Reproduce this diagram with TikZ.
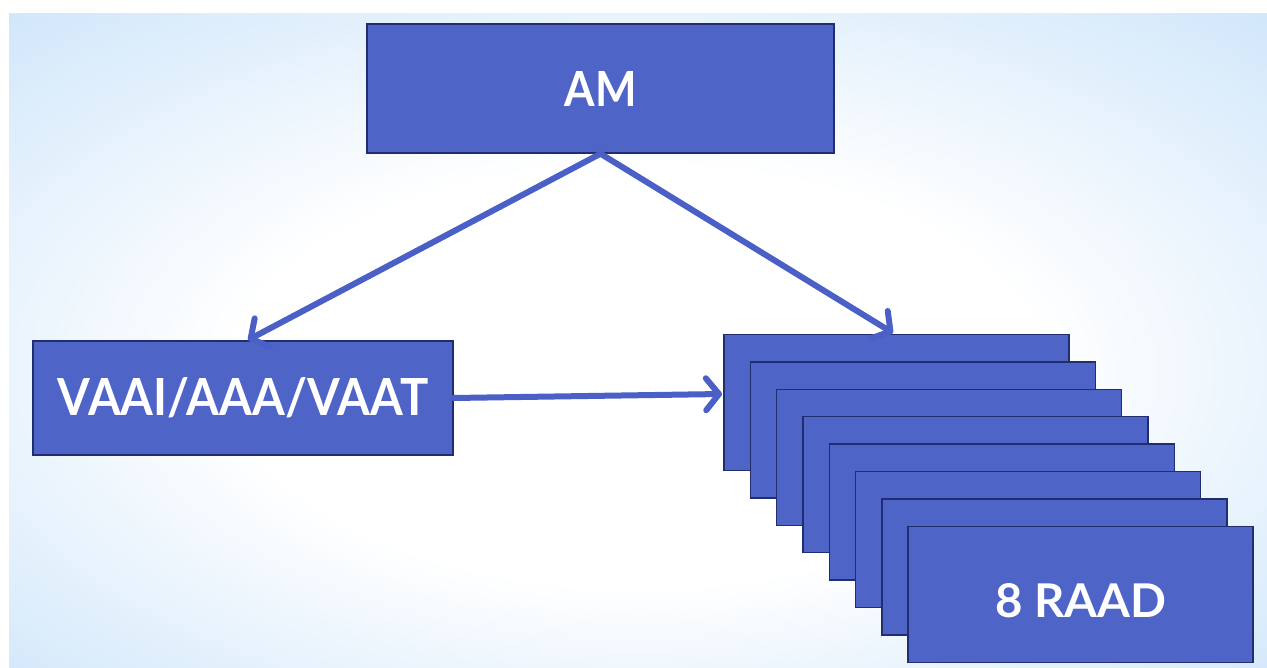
\documentclass[tikz,border=0pt]{standalone}
\usepackage{fontspec}
\setmainfont{Lato}
\usetikzlibrary{arrows.meta,calc}
\definecolor{boxblue}{RGB}{78,101,199}
\definecolor{boxedge}{RGB}{32,46,112}
\definecolor{arrowblue}{RGB}{74,96,198}
\definecolor{bgblue}{RGB}{196,224,249}
\pgfdeclareradialshading{bgshade}{\pgfpoint{0bp}{-4bp}}{color(0bp)=(white); color(16bp)=(white); color(42bp)=(bgblue); color(50bp)=(bgblue)}
\begin{document}
\begin{tikzpicture}[x=1pt,y=-1pt,
  blk/.style={draw=boxedge, line width=1.4pt, fill=boxblue, inner sep=0pt, text=white, font=\bfseries},
  lbl/.style={inner sep=0pt, text=white, font=\bfseries},
  conn/.style={draw=arrowblue, line width=6pt, line cap=round,
    -{Straight Barb[length=13pt,width=32pt,line cap=round,line join=round]}}]
  % page and background
  \path[fill=white] (0,0) rectangle (1267,668);
  \useasboundingbox (0,0) rectangle (1267,668);
  \fill[bgblue] (9,14) rectangle (1267,668);
  \shade[shading=bgshade] (9,14) rectangle (1267,668);

  % top box
  \node[blk, minimum width=467pt, minimum height=129pt] (am) at (600.5,88.5)
    {\resizebox{72pt}{35pt}{AM}};
  % left box
  \node[blk, minimum width=420pt, minimum height=114pt] (vaai) at (243,398)
    {\resizebox{370pt}{38pt}{VAAI/AAA/VAAT}};
  % stacked boxes
  \foreach \i in {1,...,8}{
    \pgfmathsetmacro{\cx}{896.5+26.3*(\i-1)}
    \pgfmathsetmacro{\cy}{402.5+27.4*(\i-1)}
    \node[blk, minimum width=345pt, minimum height=136pt] (r\i) at (\cx,\cy) {};
  }
  \node[lbl] (raad) at ($(r8.center)+(0,6)$) {\resizebox{171pt}{34pt}{8 RAAD}};

  % connector ends
  \coordinate (lt) at (248,340);
  \coordinate (rt) at (893,333);
  \coordinate (ht) at (722,394);

  \draw[conn] (am.south) -- (lt);
  \draw[conn] (am.south) -- (rt);
  \draw[conn] (vaai.east) -- (ht);
\end{tikzpicture}
\end{document}
